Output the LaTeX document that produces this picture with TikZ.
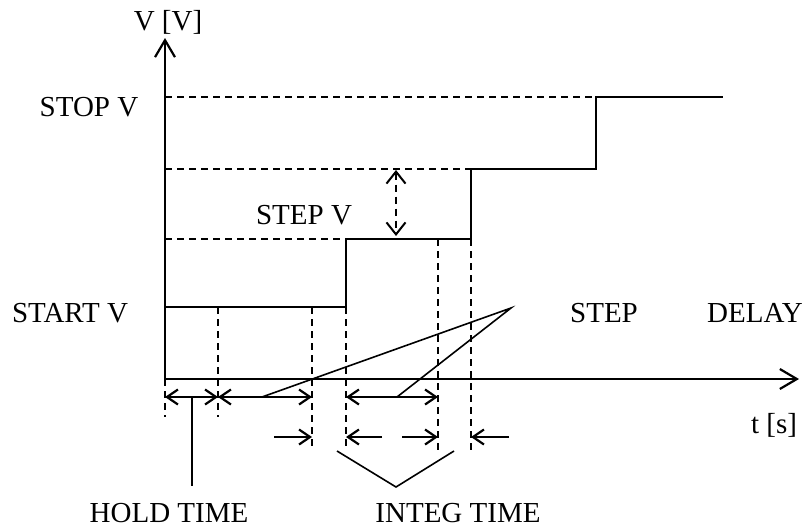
\documentclass[tikz,border=0pt]{standalone}
\usepackage{fontspec}
\setmainfont{Liberation Serif}
\usetikzlibrary{arrows.meta}
\begin{document}
\begin{tikzpicture}[x=1pt, y=-1pt, >={Straight Barb[length=11pt,width=15pt]},
  lbl/.style={font=\fontsize{29}{34}\selectfont, inner sep=0pt},
  axis/.style={line width=2.2pt, -{Straight Barb[length=17pt,width=20pt]}},
  level/.style={line width=2.8pt},
  guide/.style={line width=1.6pt, dash pattern=on 7pt off 5pt},
  span/.style={line width=2.2pt},
  thin/.style={line width=1.6pt}]
\useasboundingbox (0,0) rectangle (808,528);
% Axes
\draw[axis] (165,379) -- (799,379);
\draw[axis] (165,379) -- (165,38);
\node[lbl] (vaxis) at (168,22) {V [V]};
\node[lbl] (taxis) at (774,425) {t [s]};
% Levels
\node[lbl] (stopv) at (89,107) {STOP V};
\node[lbl] (startv) at (70,313) {START V};
\node[lbl] (stepv) at (304,215) {STEP V};
\draw[guide] (165,97) -- (596,97);
\draw[guide] (165,169) -- (471,169);
\draw[guide] (165,239) -- (346,239);
\draw[level] (165,307) -- (346,307) -- (346,239) -- (471,239) -- (471,169)
  -- (596,169) -- (596,97) -- (723,97);
\draw[guide, line width=2pt, {Straight Barb[length=12pt,width=19pt]}-{Straight Barb[length=12pt,width=19pt]}] (396,170) -- (396,236);
% Time marks
\draw[guide] (165,379) -- (165,417);
\draw[guide] (218,307) -- (218,417);
\draw[guide] (312,307) -- (312,450);
\draw[guide] (346,307) -- (346,450);
\draw[guide] (438,239) -- (438,450);
\draw[guide] (471,239) -- (471,450);
% Intervals
\draw[span, <->] (165,397) -- (218,397);
\draw[span, <->] (218,397) -- (312,397);
\draw[span, <->] (346,397) -- (438,397);
\draw[span, ->] (274,437) -- (312,437);
\draw[span, ->] (382,437) -- (346,437);
\draw[span, ->] (402,437) -- (438,437);
\draw[span, ->] (509,437) -- (471,437);
% Pointers
\node[lbl] (step) at (604,313) {STEP};
\node[lbl] (delay) at (755,313) {DELAY};
\node[lbl] (hold) at (169,513) {HOLD TIME};
\node[lbl] (integ) at (458,513) {INTEG TIME};
\coordinate (apex) at (511,308);
\draw[thin] (262,397) -- (apex) -- (397,397);
\draw[thin] (192,397) -- (192,486);
\draw[thin] (337,451) -- (396,487) -- (454,451);
\end{tikzpicture}
\end{document}
